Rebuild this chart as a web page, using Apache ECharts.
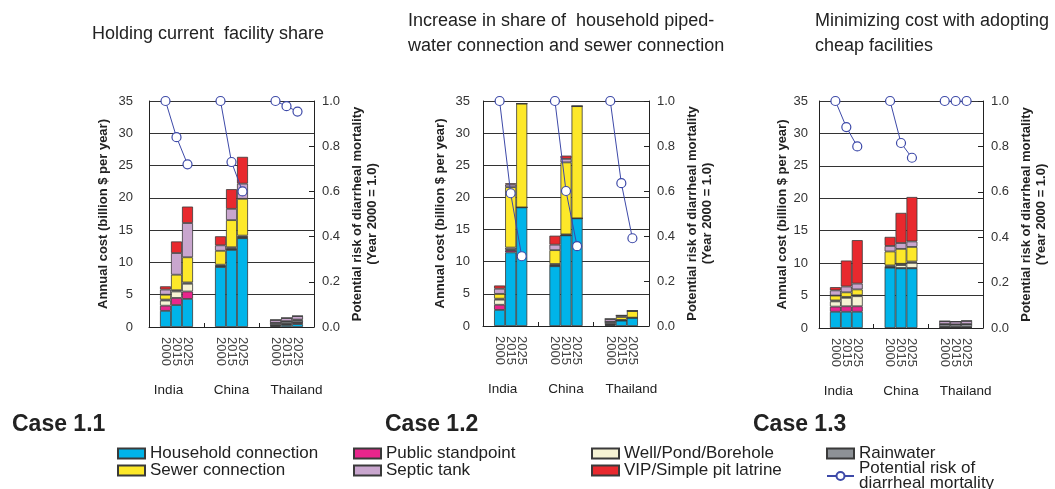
<!DOCTYPE html>
<html>
<head>
<meta charset="utf-8">
<script src="https://cdn.jsdelivr.net/npm/echarts@6/dist/echarts.min.js"></script>
<style>
html,body{margin:0;padding:0;background:#fff;}
#chart{width:1055px;height:489px;}
</style>
</head>
<body>
<div id="chart"></div>
<script>
// ---------- data ----------
const countries = ['India', 'China', 'Thailand'];
const years = ['2000', '2015', '2025'];
const costTicks = [0, 5, 10, 15, 20, 25, 30, 35];
const riskTicks = [0, 0.2, 0.4, 0.6, 0.8, 1.0];

// order of each array: India 2000/2015/2025, China 2000/2015/2025, Thailand 2000/2015/2025
// Case 1.1
const household11  = [2.5, 3.4, 4.35, 9.3, 11.95, 13.75, 0.15, 0.3, 0.45];
const standpoint11 = [0.8, 1.1, 1.15, 0.05, 0.05, 0.05, 0.1, 0.15, 0.2];
const well11       = [0.8, 1.0, 1.2, 0.1, 0.1, 0.15, 0.05, 0.05, 0.05];
const rain11       = [0.15, 0.2, 0.2, 0.2, 0.25, 0.2, 0.35, 0.35, 0.35];
const sewer11      = [0.75, 2.4, 3.9, 2.15, 4.2, 5.7, 0, 0.05, 0.1];
const septic11     = [0.8, 3.35, 5.3, 0.85, 1.75, 2.35, 0.45, 0.5, 0.55];
const vip11        = [0.5, 1.8, 2.55, 1.4, 3.05, 4.15, 0, 0, 0];
const risk11       = [1.0, 0.84, 0.72, 1.0, 0.73, 0.60, 1.0, 0.977, 0.953];

// Case 1.2
const household12  = [2.5, 11.45, 18.45, 9.3, 14.1, 16.75, 0.15, 0.85, 1.3];
const standpoint12 = [0.8, 0.3, 0, 0.05, 0, 0, 0.1, 0, 0];
const well12       = [0.8, 0.1, 0, 0.1, 0, 0, 0.05, 0, 0];
const rain12       = [0.15, 0.35, 0, 0.2, 0.15, 0, 0.35, 0.1, 0];
const sewer12      = [0.75, 9.4, 16.15, 2.15, 11.2, 17.45, 0, 0.45, 1.05];
const septic12     = [0.8, 0.4, 0, 0.85, 0.55, 0, 0.45, 0.25, 0];
const vip12        = [0.5, 0.2, 0, 1.4, 0.5, 0, 0, 0, 0];
const risk12       = [1.0, 0.59, 0.31, 1.0, 0.60, 0.355, 1.0, 0.635, 0.39];

// Case 1.3
const household13  = [2.5, 2.5, 2.5, 9.3, 9.2, 9.2, 0.05, 0.05, 0.05];
const standpoint13 = [0.8, 0.85, 0.85, 0.05, 0.05, 0.05, 0.1, 0.05, 0.05];
const well13       = [0.8, 1.3, 1.55, 0.1, 0.45, 0.8, 0.05, 0.05, 0.05];
const rain13       = [0.15, 0.15, 0.15, 0.2, 0.2, 0.2, 0.4, 0.4, 0.45];
const sewer13      = [0.75, 0.7, 0.9, 2.15, 2.3, 2.25, 0, 0, 0];
const septic13     = [0.8, 0.9, 0.9, 0.85, 0.9, 0.85, 0.45, 0.45, 0.5];
const vip13        = [0.5, 4.0, 6.7, 1.4, 4.65, 6.85, 0, 0, 0];
const risk13       = [1.0, 0.885, 0.80, 1.0, 0.815, 0.75, 1.0, 1.0, 1.0];

const componentNames = ['Household connection', 'Public standpoint', 'Well/Pond/Borehole', 'Rainwater',
  'Sewer connection', 'Septic tank', 'VIP/Simple pit latrine'];
const riskName = 'Potential risk of diarrheal mortality';

const panelTitles = ['Holding current  facility share',
  'Increase in share of  household piped-\nwater connection and sewer connection',
  'Minimizing cost with adopting\ncheap facilities'];
const caseLabels = ['Case 1.1', 'Case 1.2', 'Case 1.3'];

const caseData = [
  [household11, standpoint11, well11, rain11, sewer11, septic11, vip11],
  [household12, standpoint12, well12, rain12, sewer12, septic12, vip12],
  [household13, standpoint13, well13, rain13, sewer13, septic13, vip13]
];
const caseRisk = [risk11, risk12, risk13];

// ---------- styles / layout ----------
const colors = ['#00b4e9', '#e8268c', '#f6f3d4', '#8d9196', '#fde829', '#c9a6ce', '#e8292e'];
const FONT = '"Liberation Sans", Arial, sans-serif';
const grids = [
  {left: 149, right: 741, top: 101, bottom: 162},
  {left: 483, right: 406, top: 101, bottom: 163},
  {left: 819, right: 72, top: 101, bottom: 161}
];
const leftNameGap = [39, 36, 30];
const leftLabelMargin = [16, 13, 11];
const titlePos = [{left: 92, top: 22}, {left: 408, top: 9}, {left: 815, top: 9}];
const casePos = [{left: 12}, {left: 385}, {left: 753}];

// slots: pad, 2000, 2015, 2025, pad for each country
const slots = [];
countries.forEach(c => {
  slots.push(c + '|a');
  years.forEach(y => slots.push(c + '|' + y));
  slots.push(c + '|b');
});
function toSlots(vals) {
  const out = [];
  let k = 0;
  countries.forEach(() => {
    out.push(null);
    years.forEach(() => out.push(vals[k++]));
    out.push(null);
  });
  return out;
}

const countryRich = {
  India: {padding: [0, 16, 0, 0]},
  China: {padding: [0, 0, 0, 0]},
  Thailand: {padding: [0, 0, 0, 20]}
};
Object.keys(countryRich).forEach(k => {
  Object.assign(countryRich[k], {fontSize: 13.5, fontFamily: FONT, color: '#222'});
});

const option = {
  animation: false,
  backgroundColor: '#fff',
  textStyle: {fontFamily: FONT},
  title: [],
  grid: grids,
  xAxis: [],
  yAxis: [],
  series: [],
  legend: []
};

for (let p = 0; p < 3; p++) {
  option.title.push({
    text: panelTitles[p], left: titlePos[p].left, top: titlePos[p].top, padding: 0,
    textStyle: {fontSize: 18, fontWeight: 'normal', color: '#222', lineHeight: 25, fontFamily: FONT}
  });
  option.title.push({
    text: caseLabels[p], left: casePos[p].left, top: 412, padding: 0,
    textStyle: {fontSize: 23, fontWeight: 'bold', color: '#222', lineHeight: 25, fontFamily: FONT}
  });

  option.xAxis.push({
    type: 'category', gridIndex: p, data: slots, position: 'bottom',
    axisLine: {show: true, lineStyle: {color: '#222', width: 1}},
    axisTick: {show: true, inside: true, length: 4, interval: (i) => i === 5 || i === 10,
      lineStyle: {color: '#222'}},
    axisLabel: {interval: 0, rotate: -90, margin: 10, fontSize: 13, color: '#444', fontFamily: FONT,
      formatter: v => { const y = v.split('|')[1]; return years.indexOf(y) >= 0 ? y : ''; }},
    splitLine: {show: false}
  });
  option.xAxis.push({
    type: 'category', gridIndex: p, data: countries, position: 'bottom',
    axisLine: {show: false}, axisTick: {show: false},
    axisLabel: {interval: 0, margin: 56, formatter: v => '{' + v + '|' + v + '}', rich: countryRich},
    splitLine: {show: false}
  });

  option.yAxis.push({
    type: 'value', gridIndex: p, position: 'left',
    min: costTicks[0], max: costTicks[costTicks.length - 1], interval: costTicks[1] - costTicks[0],
    name: 'Annual cost (billion $ per year)', nameLocation: 'middle', nameRotate: 90,
    nameGap: leftNameGap[p],
    nameTextStyle: {fontSize: 13, fontWeight: 'bold', color: '#222', fontFamily: FONT},
    axisLine: {show: true, lineStyle: {color: '#222', width: 1}},
    axisTick: {show: false},
    axisLabel: {fontSize: 13, color: '#333', margin: leftLabelMargin[p], fontFamily: FONT},
    splitLine: {show: true, lineStyle: {color: '#333', width: 1}}
  });
  option.yAxis.push({
    type: 'value', gridIndex: p, position: 'right',
    min: riskTicks[0], max: riskTicks[riskTicks.length - 1], interval: riskTicks[1] - riskTicks[0],
    name: 'Potential risk of diarrheal mortality\n(Year 2000 = 1.0)',
    nameLocation: 'middle', nameRotate: 90, nameGap: 36,
    nameTextStyle: {fontSize: 13, fontWeight: 'bold', color: '#222', lineHeight: 15, fontFamily: FONT},
    axisLine: {show: true, lineStyle: {color: '#222', width: 1}},
    axisTick: {show: true, inside: true, length: 5, lineStyle: {color: '#222'}},
    axisLabel: {fontSize: 13, color: '#333', margin: 8, fontFamily: FONT, formatter: v => v.toFixed(1)},
    splitLine: {show: false}
  });

  const xIdx = p * 2;
  const yIdx = p * 2;
  componentNames.forEach((name, ci) => {
    option.series.push({
      name: name, type: 'bar', xAxisIndex: xIdx, yAxisIndex: yIdx, stack: 'cost' + p,
      barCategoryGap: '0%', barWidth: '100%',
      data: toSlots(caseData[p][ci]),
      itemStyle: {color: colors[ci], borderColor: '#3a3a3a', borderWidth: 0.8},
      emphasis: {disabled: true}
    });
  });
  option.series.push({
    name: riskName, type: 'line', xAxisIndex: xIdx, yAxisIndex: yIdx + 1,
    data: toSlots(caseRisk[p]),
    symbol: 'circle', symbolSize: 9, connectNulls: false, z: 5,
    lineStyle: {color: '#3d49a8', width: 1},
    itemStyle: {color: '#fff', borderColor: '#3d49a8', borderWidth: 1.2}
  });
}

const legendBase = {
  orient: 'vertical', padding: 0, itemGap: 0, itemWidth: 27, itemHeight: 10, icon: 'rect',
  textStyle: {fontSize: 17, lineHeight: 17, color: '#222', fontFamily: FONT}
};
option.legend = [
  Object.assign({}, legendBase, {left: 117, top: 445, data: ['Household connection', 'Sewer connection']}),
  Object.assign({}, legendBase, {left: 353, top: 445, data: ['Public standpoint', 'Septic tank']}),
  Object.assign({}, legendBase, {left: 591, top: 445, data: ['Well/Pond/Borehole', 'VIP/Simple pit latrine']}),
  Object.assign({}, legendBase, {left: 826, top: 445, data: ['Rainwater']}),
  {orient: 'vertical', padding: 0, itemGap: 0, itemWidth: 27, itemHeight: 10, left: 826, top: 460,
    data: [riskName],
    formatter: n => n.replace(' diarrheal', '\ndiarrheal'),
    textStyle: {fontSize: 17, lineHeight: 15, color: '#222', fontFamily: FONT}}
];

const chart = echarts.init(document.getElementById('chart'), null, {renderer: 'canvas'});
chart.setOption(option);
</script>
</body>
</html>
